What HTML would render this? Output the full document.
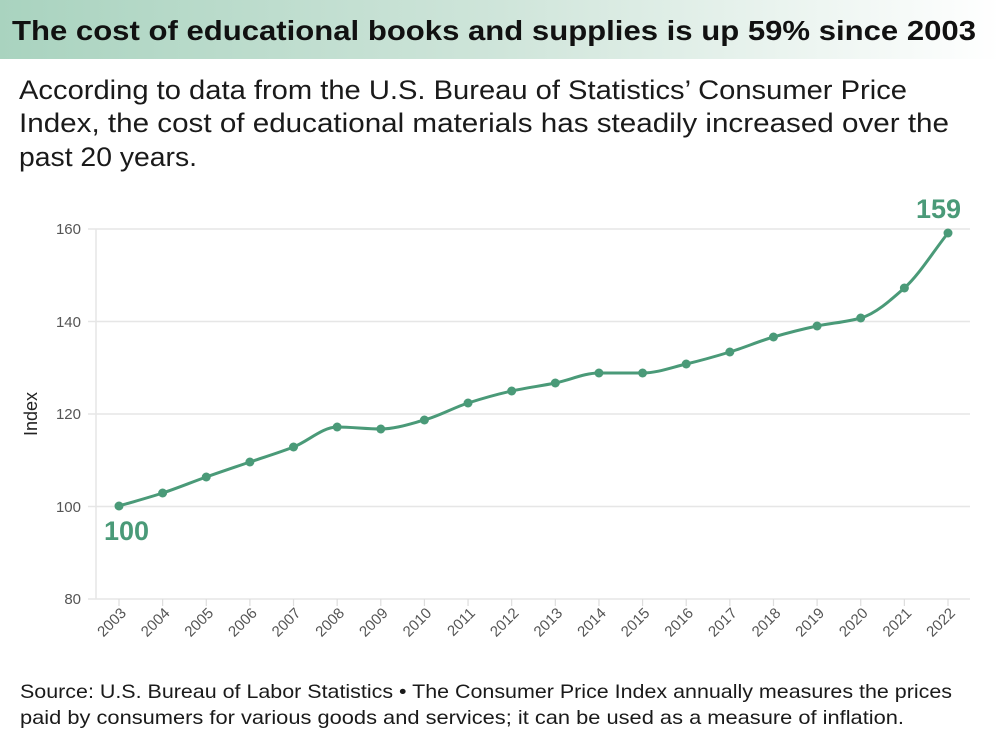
<!DOCTYPE html>
<html><head><meta charset="utf-8"><style>
html,body{margin:0;padding:0;background:#fff;}
svg{display:block;}
</style></head><body>
<svg id="S" width="1000" height="750" xmlns="http://www.w3.org/2000/svg" font-family="'Liberation Sans', sans-serif">
<defs><linearGradient id="g" x1="0" x2="1" y1="0" y2="0">
<stop offset="0" stop-color="#a9d3bf"/><stop offset="0.5" stop-color="#cfe5da"/><stop offset="1" stop-color="#ffffff"/></linearGradient></defs>
<rect x="0" y="0" width="1000" height="59" fill="url(#g)"/>
<text x="12" y="40" font-size="28" font-weight="bold" fill="#111" textLength="964" lengthAdjust="spacingAndGlyphs">The cost of educational books and supplies is up 59% since 2003</text>
<g font-size="27" fill="#1a1a1a">
<text x="19" y="99" textLength="888" lengthAdjust="spacingAndGlyphs">According to data from the U.S. Bureau of Statistics’ Consumer Price</text>
<text x="19" y="132" textLength="930" lengthAdjust="spacingAndGlyphs">Index, the cost of educational materials has steadily increased over the</text>
<text x="19" y="166" textLength="178" lengthAdjust="spacingAndGlyphs">past 20 years.</text>
</g>
<g stroke="#e6e6e6" stroke-width="1.5">
<line x1="96" x2="970" y1="229" y2="229"/><line x1="96" x2="970" y1="321.5" y2="321.5"/>
<line x1="96" x2="970" y1="414" y2="414"/><line x1="96" x2="970" y1="506.5" y2="506.5"/>
<line x1="96" x2="970" y1="599" y2="599"/>
<line x1="88" x2="96" y1="229" y2="229"/><line x1="88" x2="96" y1="321.5" y2="321.5"/>
<line x1="88" x2="96" y1="414" y2="414"/><line x1="88" x2="96" y1="506.5" y2="506.5"/><line x1="88" x2="96" y1="599" y2="599"/>
<line x1="96" x2="96" y1="229" y2="599"/>
</g>
<g font-size="15" fill="#555" text-anchor="end">
<text x="81" y="234">160</text><text x="81" y="327">140</text><text x="81" y="419">120</text><text x="81" y="512">100</text><text x="81" y="604">80</text>
</g>
<text transform="translate(37,414) rotate(-90)" font-size="18" fill="#222" text-anchor="middle">Index</text>
<g id="ticks" stroke="#ddd" stroke-width="1.2"></g>
<g id="labels" font-size="15" fill="#555" text-anchor="end"></g>
<path id="ln" fill="none" stroke="#4a9a78" stroke-width="3" stroke-linejoin="round"/>
<g id="dots" fill="#4a9a78"></g>
<text x="104" y="540" font-size="27" font-weight="bold" fill="#4a9a78">100</text>
<text x="916" y="218" font-size="27" font-weight="bold" fill="#4a9a78">159</text>
<g font-size="19.5" fill="#1a1a1a">
<text x="20" y="698" textLength="932" lengthAdjust="spacingAndGlyphs">Source: U.S. Bureau of Labor Statistics • The Consumer Price Index annually measures the prices</text>
<text x="20" y="724" textLength="884" lengthAdjust="spacingAndGlyphs">paid by consumers for various goods and services; it can be used as a measure of inflation.</text>
</g>
</svg>
<script>
var ys=[506,493,477,462,447,427,429,420,403,391,383,373,373,364,352,337,326,318,288,233];
var ns="http://www.w3.org/2000/svg",P=[];
for(var i=0;i<20;i++){var x=119+i*829/19;P.push([x,ys[i]]);
var c=document.createElementNS(ns,"circle");c.setAttribute("cx",x);c.setAttribute("cy",ys[i]);c.setAttribute("r",4.5);document.getElementById("dots").appendChild(c);
var l=document.createElementNS(ns,"line");l.setAttribute("x1",x);l.setAttribute("x2",x);l.setAttribute("y1",599);l.setAttribute("y2",606);document.getElementById("ticks").appendChild(l);
var t=document.createElementNS(ns,"text");t.setAttribute("transform","translate("+(x+8)+",614) rotate(-45)");t.textContent=2003+i;document.getElementById("labels").appendChild(t);}
var n=P.length,h=P[1][0]-P[0][0],d=[],m=[];
for(i=0;i<n-1;i++)d.push((P[i+1][1]-P[i][1])/h);
m[0]=d[0];m[n-1]=d[n-2];
for(i=1;i<n-1;i++){m[i]=(d[i-1]*d[i]<=0)?0:2/(1/d[i-1]+1/d[i]);}
var s="M"+P[0][0]+","+P[0][1];
for(i=0;i<n-1;i++){s+=" C"+(P[i][0]+h/3)+","+(P[i][1]+m[i]*h/3)+" "+(P[i+1][0]-h/3)+","+(P[i+1][1]-m[i+1]*h/3)+" "+P[i+1][0]+","+P[i+1][1];}
document.getElementById("ln").setAttribute("d",s);
</script>
</body></html>
